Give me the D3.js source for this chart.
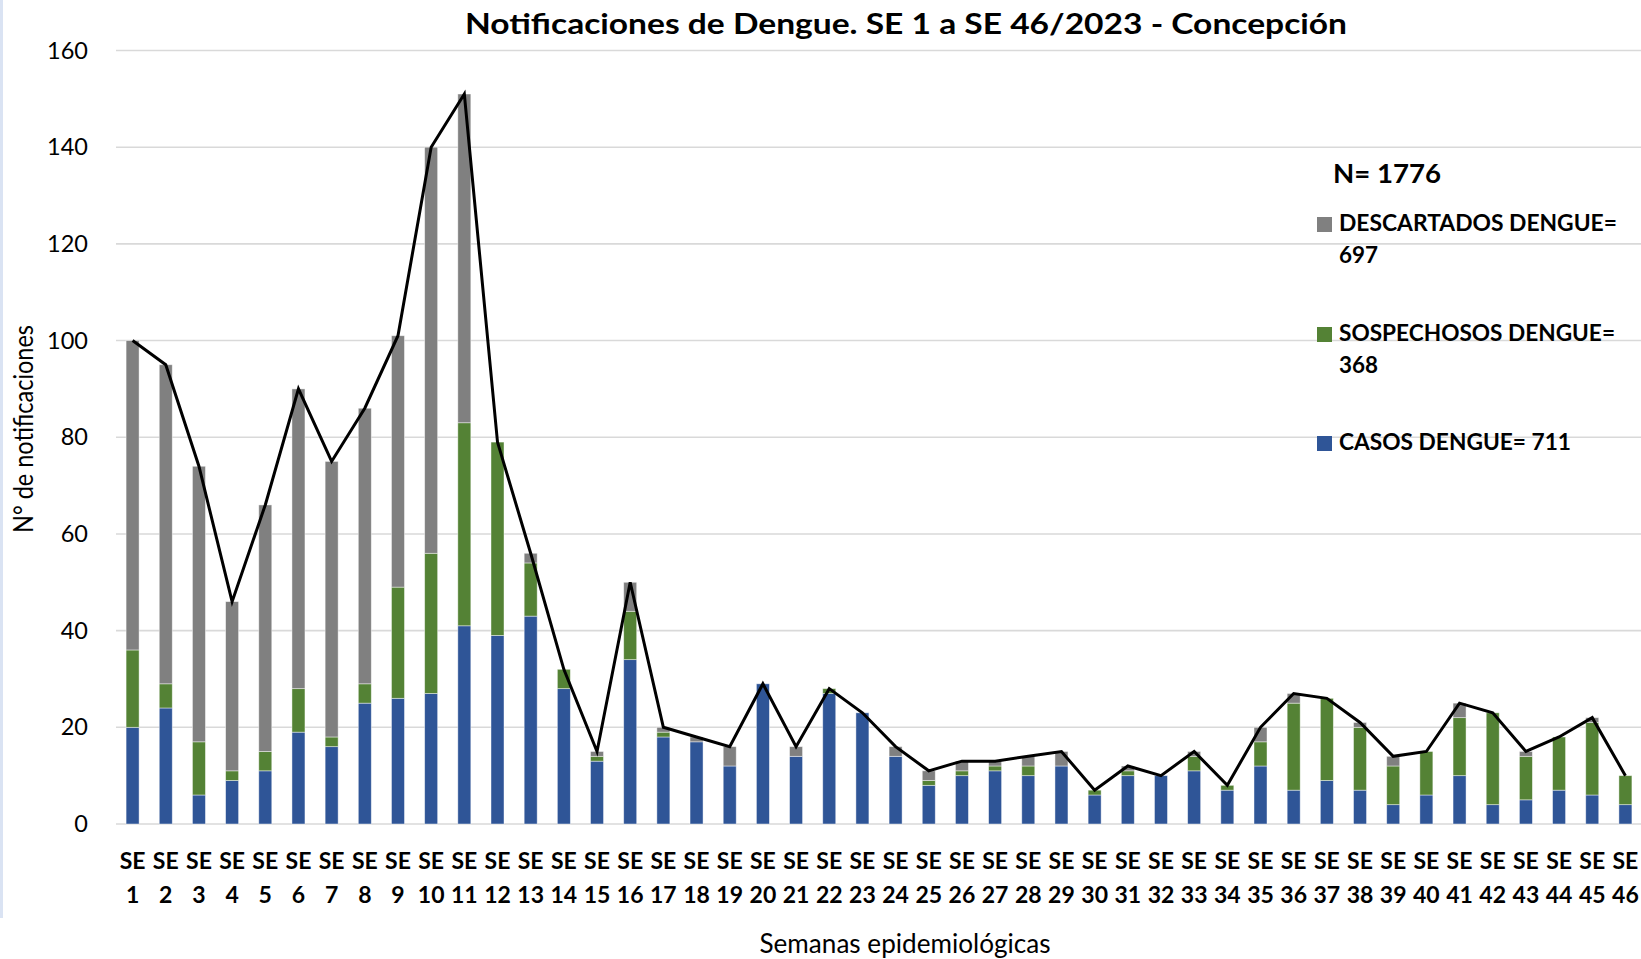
<!DOCTYPE html>
<html>
<head>
<meta charset="utf-8">
<script src="https://cdn.jsdelivr.net/npm/d3@7"></script>
<style>
  html, body { margin: 0; padding: 0; background: #fff; }
  svg { display: block; font-family: Lato, "Noto Sans", sans-serif; }
</style>
</head>
<body>
<div id="chart"></div>
<script>
// semanas epidemiologicas 1..46
var weeks = ["1","2","3","4","5","6","7","8","9","10","11","12","13","14","15","16","17","18","19","20","21","22","23",
             "24","25","26","27","28","29","30","31","32","33","34","35","36","37","38","39","40","41","42","43","44","45","46"];
var casos = [20,24,6,9,11,19,16,25,26,27,41,39,43,28,13,34,18,17,12,29,14,27,23,
             14,8,10,11,10,12,6,10,10,11,7,12,7,9,7,4,6,10,4,5,7,6,4];
var sospechosos = [16,5,11,2,4,9,2,4,23,29,42,40,11,4,1,10,1,0,0,0,0,1,0,
                   0,1,1,1,2,0,1,1,0,3,1,5,18,17,13,8,9,12,19,9,11,15,6];
var descartados = [64,66,57,35,51,62,57,57,52,84,68,0,2,0,1,6,1,1,4,0,2,0,0,
                   2,2,2,1,2,3,0,1,0,1,0,3,2,0,1,2,0,3,0,1,0,1,0];
var yTicks = [0,20,40,60,80,100,120,140,160];
var seriesKeys = ["casos","sospechosos","descartados"];
var seriesColors = {casos:"#2f5597", sospechosos:"#548235", descartados:"#808080"};
var legendLines = {
  descartados: ["DESCARTADOS DENGUE=", "697"],
  sospechosos: ["SOSPECHOSOS DENGUE=", "368"],
  casos: ["CASOS DENGUE= 711"]
};

var W = 1641, H = 959;
var plot = {left:116, right:1642, top:50.5, bottom:824};

var rows = weeks.map(function(w,i){
  return {week:w, casos:casos[i], sospechosos:sospechosos[i], descartados:descartados[i]};
});

var svg = d3.select("#chart").append("svg").attr("width",W).attr("height",H);

// franja azul a la izquierda
svg.append("rect").attr("x",0).attr("y",0).attr("width",3).attr("height",918).attr("fill","#dae3f3");

var x = d3.scaleBand().domain(weeks).range([plot.left, plot.right])
  .paddingInner(0.608).paddingOuter(0.304);
var y = d3.scaleLinear().domain([0,160]).range([plot.bottom, plot.top]);

// grid
svg.append("g").selectAll("line").data(yTicks).enter().append("line")
  .attr("x1",plot.left).attr("x2",W)
  .attr("y1",function(d){return y(d);}).attr("y2",function(d){return y(d);})
  .attr("stroke","#d9d9d9").attr("stroke-width",1.6);

// eje y
var yAxis = svg.append("g").attr("transform","translate("+plot.left+",0)")
  .call(d3.axisLeft(y).tickValues(yTicks).tickSize(0).tickPadding(28));
yAxis.select(".domain").remove();
yAxis.selectAll("text").style("font-size","23.5px").style("font-family","Lato").attr("fill","#000");

// barras apiladas
var stack = d3.stack().keys(seriesKeys)(rows);
svg.append("g").selectAll("g").data(stack).enter().append("g")
  .attr("fill",function(d){return seriesColors[d.key];})
  .selectAll("rect").data(function(d){return d;}).enter().append("rect")
  .filter(function(d){return d[1]-d[0] > 0;})
  .attr("x",function(d){return x(d.data.week);})
  .attr("width",x.bandwidth())
  .attr("y",function(d){return y(d[1]);})
  .attr("height",function(d){return y(d[0])-y(d[1]);})
  .attr("stroke","#ffffff").attr("stroke-opacity",0.55).attr("stroke-width",0.8);

// linea de totales
var line = d3.line()
  .x(function(d){return x(d.week)+x.bandwidth()/2;})
  .y(function(d){return y(d.casos+d.sospechosos+d.descartados);});
svg.append("path").datum(rows).attr("d",line)
  .attr("fill","none").attr("stroke","#000").attr("stroke-width",3).attr("stroke-linejoin","miter");

// eje x
var xAxis = svg.append("g").attr("transform","translate(0,"+plot.bottom+")")
  .call(d3.axisBottom(x).tickSize(0).tickFormat(""));
xAxis.select(".domain").remove();
xAxis.selectAll(".tick").each(function(d){
  var t = d3.select(this).append("text").attr("text-anchor","middle")
    .attr("fill","#000").style("font-size","23px").style("font-weight","bold").style("font-family","Lato");
  t.append("tspan").attr("x",0).attr("y",45).text("SE");
  t.append("tspan").attr("x",0).attr("y",79).text(d);
});

// titulos
svg.append("text").attr("x",906).attr("y",34).attr("text-anchor","middle")
  .style("font-size","28px").style("font-weight","bold")
  .attr("textLength",882).attr("lengthAdjust","spacingAndGlyphs")
  .text("Notificaciones de Dengue. SE 1 a SE 46/2023 - Concepción");

svg.append("text").attr("transform","translate(33,429) rotate(-90)").attr("text-anchor","middle")
  .style("font-size","26px").attr("textLength",208).attr("lengthAdjust","spacingAndGlyphs")
  .text("N° de notificaciones");

svg.append("text").attr("x",905).attr("y",953).attr("text-anchor","middle")
  .style("font-size","26px").attr("textLength",291).attr("lengthAdjust","spacingAndGlyphs")
  .text("Semanas epidemiológicas");

// leyenda
svg.append("text").attr("x",1333).attr("y",183)
  .style("font-size","26px").style("font-weight","bold")
  .attr("textLength",108).attr("lengthAdjust","spacingAndGlyphs").text("N= 1776");

var legendItems = [
  {key:"descartados", top:217, widths:[278,39]},
  {key:"sospechosos", top:327, widths:[276,39]},
  {key:"casos", top:436, widths:[232]}
];
var lg = svg.append("g").selectAll("g").data(legendItems).enter().append("g");
lg.append("rect").attr("x",1317).attr("y",function(d){return d.top;})
  .attr("width",15).attr("height",15).attr("fill",function(d){return seriesColors[d.key];});
lg.each(function(d){
  var g = d3.select(this);
  legendLines[d.key].forEach(function(s,j){
    g.append("text").attr("x",1339).attr("y",d.top+14+j*32)
      .style("font-size","23px").style("font-weight","bold")
      .attr("textLength",d.widths[j]).attr("lengthAdjust","spacingAndGlyphs").text(s);
  });
});
</script>
</body>
</html>
